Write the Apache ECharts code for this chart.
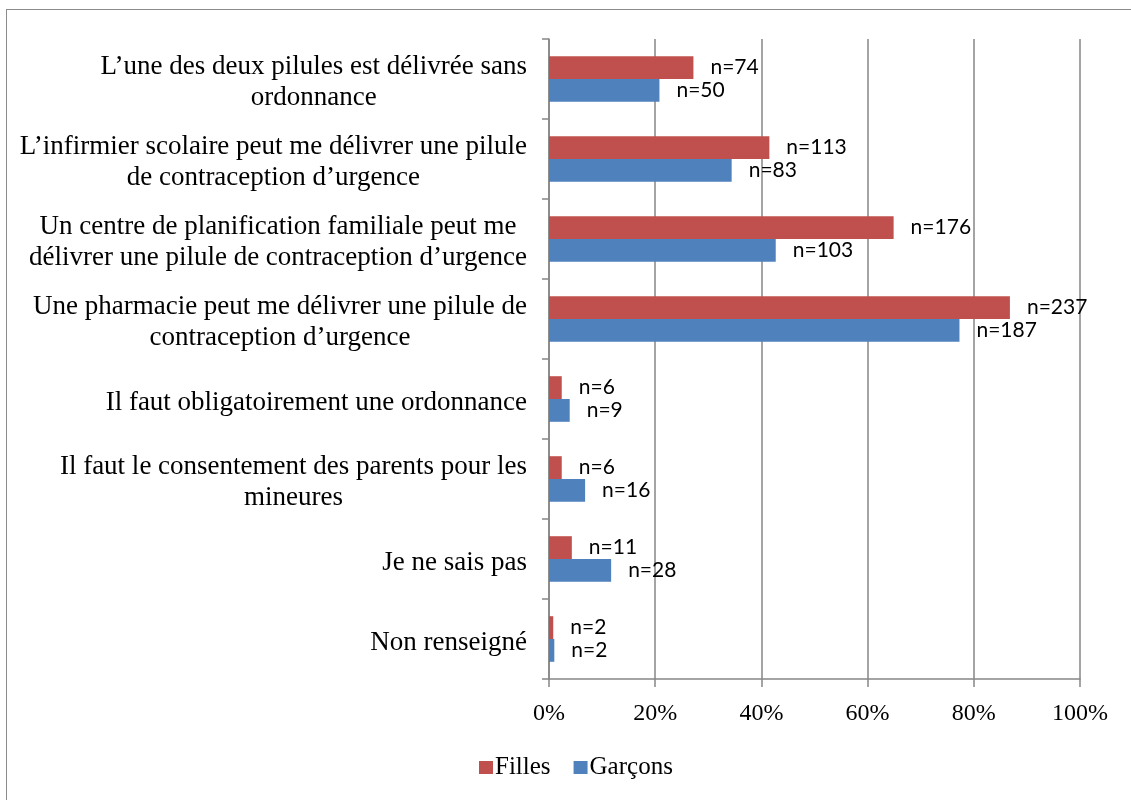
<!DOCTYPE html>
<html>
<head>
<meta charset="utf-8">
<script src="https://cdn.jsdelivr.net/npm/echarts@6/dist/echarts.min.js"></script>
<style>
  html, body { margin: 0; padding: 0; background: #fff; }
  #frame { position: absolute; left: 6px; top: 9px; width: 1200px; height: 900px; border-left: 1.5px solid #8c8c8c; border-top: 1.5px solid #8c8c8c; }
  #chart { position: absolute; left: 0; top: 0; width: 1131px; height: 800px; }
</style>
</head>
<body>
<div id="frame"></div>
<div id="chart"></div>
<script>
const categories = [
  "L\u2019une des deux pilules est délivrée sans\nordonnance",
  "L\u2019infirmier scolaire peut me délivrer une pilule\nde contraception d\u2019urgence",
  "Un centre de planification familiale peut me\ndélivrer une pilule de contraception d\u2019urgence",
  "Une pharmacie peut me délivrer une pilule de\ncontraception d\u2019urgence",
  "Il faut obligatoirement une ordonnance",
  "Il faut le consentement des parents pour les\nmineures",
  "Je ne sais pas",
  "Non renseigné"
];
const fillesPct = [27.2, 41.5, 64.9, 86.8, 2.4, 2.4, 4.3, 0.8];
const garconsPct = [20.8, 34.4, 42.7, 77.3, 3.9, 6.8, 11.7, 1.0];
const fillesN = [74, 113, 176, 237, 6, 6, 11, 2];
const garconsN = [50, 83, 103, 187, 9, 16, 28, 2];
const xTicks = [0, 20, 40, 60, 80, 100];

const axisGray = '#868686';
const serif = "'Liberation Serif', 'Times New Roman', serif";
const sans = "Lato, 'Liberation Sans', sans-serif";

const chart = echarts.init(document.getElementById('chart'), null, { renderer: 'canvas' });

function nLabel(arr) {
  return {
    show: true,
    position: 'right',
    distance: 17,
    fontFamily: sans,
    fontSize: 21,
    color: '#000',
    formatter: p => 'n=' + arr[p.dataIndex]
  };
}

chart.setOption({
  animation: false,
  grid: { left: 549, right: 51, top: 39, bottom: 121, containLabel: false },
  legend: {
    data: ['Filles', 'Garçons'],
    left: 474,
    top: 750,
    itemWidth: 14,
    itemHeight: 13,
    itemGap: 23,
    icon: 'rect',
    textStyle: { fontFamily: serif, fontSize: 25, color: '#000', padding: [0, 0, 0, -3] }
  },
  xAxis: {
    type: 'value',
    min: 0,
    max: 100,
    interval: 20,
    axisLine: { show: true, lineStyle: { color: axisGray, width: 1.5 } },
    axisTick: { show: true, length: 8, lineStyle: { color: axisGray, width: 1.5 } },
    splitLine: { show: true, lineStyle: { color: axisGray, width: 1.5 } },
    axisLabel: {
      margin: 23,
      fontFamily: serif,
      fontSize: 24,
      color: '#000',
      formatter: v => (xTicks.indexOf(v) >= 0 ? v + '%' : '')
    }
  },
  yAxis: {
    type: 'category',
    data: categories,
    inverse: true,
    axisLine: { show: true, lineStyle: { color: axisGray, width: 1.5 } },
    axisTick: { show: true, length: 7, inside: false, lineStyle: { color: axisGray, width: 1.5 } },
    splitLine: { show: false },
    axisLabel: {
      margin: 22,
      align: 'right',
      padding: [7, 0, 0, 0],
      formatter: v => v.split('\n').map(l => '{c|' + l + '}').join('\n'),
      rich: {
        c: { fontFamily: serif, fontSize: 27, lineHeight: 31, align: 'center', color: '#000' }
      }
    }
  },
  series: [
    {
      name: 'Filles',
      type: 'bar',
      data: fillesPct,
      barGap: '0%',
      barCategoryGap: '43%',
      itemStyle: { color: '#C0504D' },
      label: nLabel(fillesN)
    },
    {
      name: 'Garçons',
      type: 'bar',
      data: garconsPct,
      barGap: '0%',
      barCategoryGap: '43%',
      itemStyle: { color: '#4F81BD' },
      label: nLabel(garconsN)
    }
  ]
});
</script>
</body>
</html>
